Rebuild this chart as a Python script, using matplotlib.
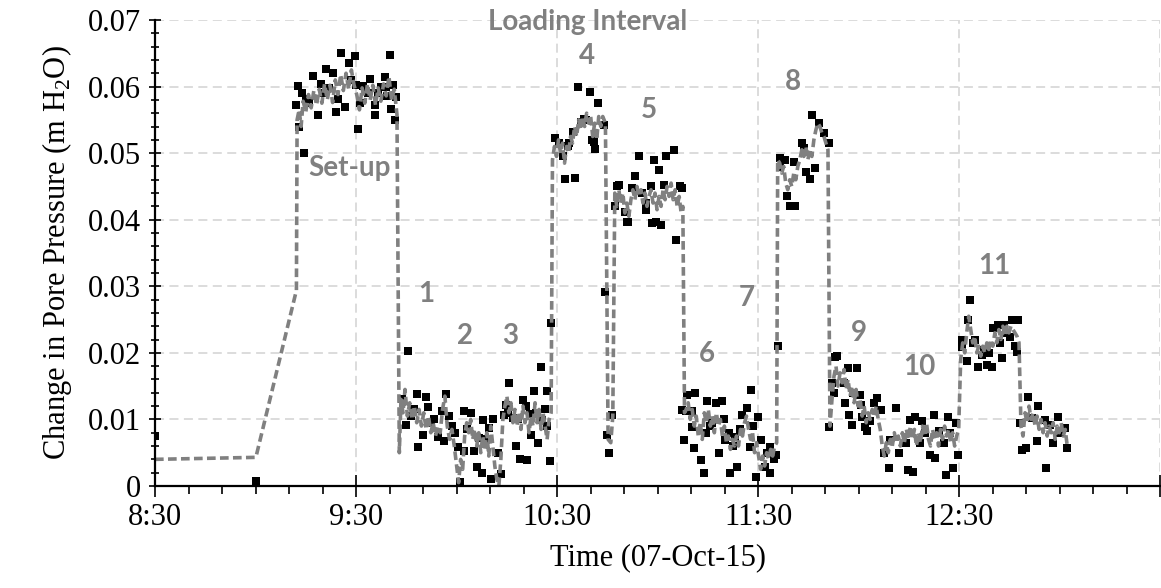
import matplotlib
matplotlib.use('Agg')
import matplotlib.pyplot as plt
from matplotlib.ticker import MultipleLocator, FuncFormatter

# time = minutes after 8:30, value = change in pore pressure (m H2O)
# black squares: individual readings
pre_pts = [(0.0, 0.0075), (30.1, 0.0008)]
setup_pts = [(42.2, 0.0572), (42.7, 0.0601), (43.0, 0.0539), (44.0, 0.0590), (44.5, 0.0500),
             (45.2, 0.0582), (46.0, 0.0575), (47.1, 0.0616), (48.6, 0.0557), (49.4, 0.0604),
             (50.0, 0.0590), (51.1, 0.0627), (52.0, 0.0598), (53.1, 0.0620), (54.1, 0.0562),
             (54.6, 0.0581), (55.4, 0.0651), (56.6, 0.0569), (57.8, 0.0635), (58.5, 0.0610),
             (59.6, 0.0646), (60.1, 0.0602), (60.5, 0.0537), (61.2, 0.0575), (62.0, 0.0601),
             (63.5, 0.0590), (64.3, 0.0611), (65.5, 0.0557), (65.7, 0.0572), (66.5, 0.0590),
             (67.5, 0.0600), (68.5, 0.0615), (69.0, 0.0600), (69.3, 0.0586), (70.0, 0.0647),
             (70.5, 0.0567), (71.0, 0.0603), (71.5, 0.0550), (72.0, 0.0585)]
int1_3_pts = [(73.6, 0.0130), (74.9, 0.0092), (75.6, 0.0203), (76.5, 0.0105), (77.3, 0.0115),
              (78.2, 0.0138), (78.4, 0.0059), (79.9, 0.0077), (80.9, 0.0134), (81.4, 0.0118),
              (82.4, 0.0094), (83.2, 0.0100), (84.4, 0.0074), (85.6, 0.0112), (86.2, 0.0067),
              (86.9, 0.0138), (87.6, 0.0105), (88.5, 0.0090), (89.4, 0.0080), (90.3, 0.0058),
              (91.1, 0.0006), (92.1, 0.0112), (92.3, 0.0053), (93.2, 0.0085), (94.3, 0.0110),
              (95.3, 0.0052), (96.1, 0.0029), (96.8, 0.0072), (97.5, 0.0019), (97.8, 0.0099),
              (98.6, 0.0070), (99.8, 0.0087), (100.3, 0.0010), (101.0, 0.0100), (102.2, 0.0049),
              (103.2, 0.0018), (104.0, 0.0107), (104.7, 0.0122), (105.2, 0.0110), (105.7, 0.0154),
              (106.7, 0.0102), (107.7, 0.0060), (108.3, 0.0100), (109.0, 0.0040), (109.7, 0.0129),
              (110.7, 0.0120), (111.0, 0.0039), (111.8, 0.0108), (112.2, 0.0077), (113.0, 0.0142),
              (113.7, 0.0110), (114.4, 0.0064), (115.2, 0.0178), (115.6, 0.0099), (116.3, 0.0115),
              (116.9, 0.0090), (117.1, 0.0142), (117.9, 0.0038), (118.3, 0.0245)]
int4_pts = [(119.4, 0.0522), (120.6, 0.0515), (121.6, 0.0495), (122.4, 0.0461), (123.1, 0.0510),
            (123.6, 0.0515), (124.6, 0.0531), (125.4, 0.0462), (126.1, 0.0600), (127.1, 0.0547),
            (128.1, 0.0552), (128.6, 0.0550), (129.8, 0.0592), (130.4, 0.0520), (131.0, 0.0517),
            (131.3, 0.0506), (132.3, 0.0576), (134.0, 0.0542), (134.3, 0.0292), (135.0, 0.0077),
            (135.5, 0.0049), (136.5, 0.0107)]
int5_pts = [(137.3, 0.0420), (138.0, 0.0450), (138.5, 0.0452), (140.3, 0.0412), (140.9, 0.0397),
            (141.2, 0.0396), (142.3, 0.0447), (143.2, 0.0465), (144.4, 0.0495), (145.4, 0.0440),
            (146.4, 0.0415), (146.6, 0.0425), (147.9, 0.0450), (148.4, 0.0395), (148.9, 0.0490),
            (149.4, 0.0396), (150.4, 0.0475), (150.9, 0.0392), (151.9, 0.0452), (152.4, 0.0495),
            (154.8, 0.0505), (155.4, 0.0370), (156.8, 0.0450), (157.1, 0.0114), (157.3, 0.0448)]
int6_7_pts = [(157.8, 0.0069), (158.3, 0.0112), (158.8, 0.0137), (160.1, 0.0112), (160.3, 0.0089),
              (160.8, 0.0057), (161.1, 0.0139), (162.8, 0.0039), (163.8, 0.0019), (164.3, 0.0079),
              (164.8, 0.0127), (165.5, 0.0090), (166.3, 0.0094), (167.4, 0.0124), (168.2, 0.0049),
              (169.2, 0.0127), (169.8, 0.0100), (170.2, 0.0069), (171.2, 0.0079), (171.7, 0.0019),
              (172.4, 0.0060), (173.0, 0.0074), (173.7, 0.0029), (174.5, 0.0085), (175.2, 0.0107),
              (176.7, 0.0117), (177.4, 0.0059), (177.7, 0.0144), (178.4, 0.0090), (179.2, 0.0014),
              (180.0, 0.0104), (180.7, 0.0069), (181.9, 0.0029), (182.6, 0.0050), (183.4, 0.0019),
              (183.6, 0.0059), (184.6, 0.0040), (185.4, 0.0047), (186.0, 0.0210)]
int8_pts = [(186.4, 0.0479), (186.6, 0.0492), (188.1, 0.0490), (188.6, 0.0435), (189.6, 0.0420),
            (190.6, 0.0487), (191.1, 0.0420), (193.1, 0.0515), (193.6, 0.0507), (194.1, 0.0472),
            (195.3, 0.0461), (195.9, 0.0557), (196.9, 0.0477), (198.1, 0.0545), (199.5, 0.0530),
            (201.0, 0.0515)]
int9_10_pts = [(201.2, 0.0089), (202.1, 0.0154), (202.5, 0.0139), (202.9, 0.0194), (203.5, 0.0195),
               (205.5, 0.0154), (206.0, 0.0124), (206.8, 0.0177), (207.0, 0.0107), (207.9, 0.0092),
               (208.4, 0.0139), (209.4, 0.0177), (210.4, 0.0137), (210.7, 0.0122), (210.9, 0.0104),
               (211.9, 0.0089), (212.4, 0.0082), (213.4, 0.0097), (214.4, 0.0124), (215.4, 0.0132),
               (216.7, 0.0114), (217.4, 0.0049), (219.1, 0.0027), (219.4, 0.0069), (221.0, 0.0117),
               (221.9, 0.0049), (224.0, 0.0064), (224.6, 0.0024), (225.3, 0.0099), (226.3, 0.0021),
               (226.8, 0.0104), (228.3, 0.0064), (228.8, 0.0097), (229.8, 0.0079), (231.3, 0.0047),
               (232.3, 0.0107), (232.8, 0.0042), (234.0, 0.0082), (235.3, 0.0064), (235.9, 0.0017),
               (236.5, 0.0104), (237.2, 0.0079), (238.2, 0.0027), (238.9, 0.0094), (239.7, 0.0047)]
int11_pts = [(240.7, 0.0209), (240.9, 0.0219), (242.2, 0.0187), (242.7, 0.0249), (243.2, 0.0279),
             (244.0, 0.0215), (244.7, 0.0219), (245.5, 0.0179), (246.7, 0.0197), (247.3, 0.0205),
             (248.2, 0.0182), (249.0, 0.0200), (249.7, 0.0179), (250.1, 0.0237), (251.6, 0.0242),
             (252.0, 0.0215), (252.6, 0.0192), (253.4, 0.0242), (254.3, 0.0230), (255.1, 0.0224),
             (255.6, 0.0249), (256.1, 0.0250), (256.6, 0.0210), (257.1, 0.0202), (257.6, 0.0249)]
end_pts = [(258.1, 0.0094), (258.8, 0.0054), (260.0, 0.0057), (260.4, 0.0134), (261.6, 0.0102),
           (263.1, 0.0067), (263.6, 0.0120), (265.5, 0.0099), (266.0, 0.0027), (267.0, 0.0092),
           (268.0, 0.0064), (269.5, 0.0104), (270.0, 0.0079), (271.6, 0.0087), (272.1, 0.0057)]

# grey dashed line: running mean of readings
pre_line = [(0.0, 0.0040), (30.1, 0.0043), (42.2, 0.0294)]
setup_line = [(42.4, 0.0550), (43.0, 0.0565), (43.6, 0.0540), (44.2, 0.0578), (45.0, 0.0562),
              (45.8, 0.0588), (46.6, 0.0568), (47.4, 0.0594), (48.2, 0.0572), (49.0, 0.0596),
              (49.8, 0.0575), (50.6, 0.0604), (51.4, 0.0580), (52.2, 0.0602), (53.0, 0.0576),
              (53.8, 0.0610), (54.6, 0.0588), (55.4, 0.0618), (56.2, 0.0594), (57.0, 0.0620),
              (57.8, 0.0596), (58.6, 0.0625), (59.4, 0.0602), (60.2, 0.0588), (61.0, 0.0565),
              (61.8, 0.0598), (62.6, 0.0575), (63.4, 0.0604), (64.2, 0.0580), (65.0, 0.0602),
              (65.8, 0.0572), (66.6, 0.0598), (67.4, 0.0578), (68.2, 0.0604), (69.0, 0.0586),
              (69.8, 0.0615), (70.6, 0.0580), (71.4, 0.0596), (72.2, 0.0558), (72.9, 0.0050)]
int1_3_line = [(73.4, 0.0130), (74.0, 0.0110), (74.6, 0.0145), (75.3, 0.0105), (76.0, 0.0125),
               (76.7, 0.0100), (77.4, 0.0120), (78.1, 0.0095), (78.8, 0.0115), (79.5, 0.0090),
               (80.2, 0.0110), (80.9, 0.0085), (81.6, 0.0105), (82.3, 0.0080), (83.0, 0.0095),
               (83.7, 0.0075), (84.4, 0.0090), (85.1, 0.0080), (85.8, 0.0115), (86.5, 0.0135),
               (87.2, 0.0090), (87.9, 0.0070), (88.6, 0.0085), (89.3, 0.0060), (90.0, 0.0030),
               (90.6, 0.0005), (91.2, 0.0040), (91.8, 0.0025), (92.4, 0.0075), (93.0, 0.0095),
               (93.6, 0.0080), (94.2, 0.0100), (94.8, 0.0070), (95.4, 0.0085), (96.0, 0.0060),
               (96.6, 0.0080), (97.2, 0.0050), (97.8, 0.0075), (98.4, 0.0055), (99.0, 0.0080),
               (99.6, 0.0045), (100.2, 0.0090), (100.8, 0.0060), (101.4, 0.0030), (102.0, 0.0010),
               (102.6, 0.0000), (103.2, 0.0040), (103.8, 0.0100), (104.4, 0.0120), (105.0, 0.0135),
               (105.6, 0.0110), (106.2, 0.0125), (106.8, 0.0095), (107.4, 0.0115), (108.0, 0.0090),
               (108.6, 0.0110), (109.2, 0.0085), (109.8, 0.0120), (110.4, 0.0095), (111.0, 0.0110),
               (111.6, 0.0080), (112.2, 0.0105), (112.8, 0.0090), (113.4, 0.0125), (114.0, 0.0095),
               (114.6, 0.0115), (115.2, 0.0085), (115.8, 0.0110), (116.4, 0.0090), (117.0, 0.0070),
               (117.6, 0.0100), (118.2, 0.0110)]
int4_line = [(118.6, 0.0490), (119.2, 0.0510), (119.8, 0.0495), (120.4, 0.0520), (121.0, 0.0500),
             (121.6, 0.0515), (122.2, 0.0485), (122.8, 0.0510), (123.4, 0.0500), (124.0, 0.0525),
             (124.6, 0.0515), (125.2, 0.0540), (125.8, 0.0525), (126.4, 0.0550), (127.0, 0.0535),
             (127.6, 0.0555), (128.2, 0.0540), (128.8, 0.0560), (129.4, 0.0545), (130.0, 0.0555),
             (130.6, 0.0525), (131.2, 0.0545), (131.8, 0.0520), (132.4, 0.0555), (133.0, 0.0540),
             (133.6, 0.0555), (134.4, 0.0545), (135.2, 0.0070), (136.0, 0.0065), (136.6, 0.0105)]
int5_line = [(137.2, 0.0440), (137.8, 0.0420), (138.4, 0.0445), (139.0, 0.0425), (139.6, 0.0440),
             (140.2, 0.0410), (140.8, 0.0425), (141.4, 0.0405), (142.0, 0.0430), (142.6, 0.0445),
             (143.2, 0.0430), (143.8, 0.0450), (144.4, 0.0435), (145.0, 0.0445), (145.6, 0.0425),
             (146.2, 0.0440), (146.8, 0.0420), (147.4, 0.0435), (148.0, 0.0445), (148.6, 0.0425),
             (149.2, 0.0440), (149.8, 0.0415), (150.4, 0.0435), (151.0, 0.0420), (151.6, 0.0445),
             (152.2, 0.0430), (152.8, 0.0450), (153.4, 0.0435), (154.0, 0.0455), (154.6, 0.0430),
             (155.2, 0.0445), (155.8, 0.0420), (156.4, 0.0435), (157.0, 0.0410), (157.5, 0.0420)]
int6_7_line = [(158.0, 0.0110), (158.5, 0.0115), (159.1, 0.0125), (159.7, 0.0100), (160.3, 0.0115),
               (160.9, 0.0090), (161.5, 0.0105), (162.1, 0.0075), (162.7, 0.0095), (163.3, 0.0070),
               (163.9, 0.0110), (164.5, 0.0095), (165.1, 0.0115), (165.7, 0.0090), (166.3, 0.0105),
               (166.9, 0.0080), (167.5, 0.0110), (168.1, 0.0090), (168.7, 0.0100), (169.3, 0.0075),
               (169.9, 0.0090), (170.5, 0.0065), (171.1, 0.0075), (171.7, 0.0055), (172.3, 0.0070),
               (172.9, 0.0060), (173.5, 0.0075), (174.1, 0.0060), (174.7, 0.0085), (175.3, 0.0075),
               (175.9, 0.0095), (176.5, 0.0105), (177.1, 0.0085), (177.7, 0.0070), (178.3, 0.0080),
               (178.9, 0.0050), (179.5, 0.0065), (180.1, 0.0045), (180.7, 0.0025), (181.3, 0.0045),
               (181.9, 0.0030), (182.5, 0.0050), (183.1, 0.0040), (183.7, 0.0055), (184.3, 0.0045),
               (184.9, 0.0060), (185.5, 0.0065)]
int8_line = [(185.8, 0.0490), (186.4, 0.0485), (187.0, 0.0470), (187.6, 0.0480), (188.2, 0.0455),
             (188.8, 0.0445), (189.4, 0.0460), (190.0, 0.0450), (190.6, 0.0470), (191.2, 0.0460),
             (191.8, 0.0480), (192.4, 0.0490), (193.0, 0.0505), (193.6, 0.0495), (194.2, 0.0510),
             (194.8, 0.0490), (195.4, 0.0505), (196.0, 0.0495), (196.6, 0.0520), (197.2, 0.0535),
             (197.8, 0.0545), (198.4, 0.0540), (199.0, 0.0530), (199.6, 0.0525), (200.2, 0.0515),
             (200.8, 0.0505)]
int9_10_line = [(201.4, 0.0090), (202.0, 0.0130), (202.6, 0.0165), (203.2, 0.0180), (203.8, 0.0150),
                (204.4, 0.0170), (205.0, 0.0155), (205.6, 0.0175), (206.2, 0.0145), (206.8, 0.0160),
                (207.4, 0.0135), (208.0, 0.0150), (208.6, 0.0125), (209.2, 0.0145), (209.8, 0.0120),
                (210.4, 0.0130), (211.0, 0.0105), (211.6, 0.0120), (212.2, 0.0095), (212.8, 0.0110),
                (213.4, 0.0100), (214.0, 0.0115), (214.6, 0.0105), (215.2, 0.0120), (215.8, 0.0100),
                (216.4, 0.0085), (217.0, 0.0060), (217.6, 0.0045), (218.2, 0.0065), (218.8, 0.0050),
                (219.4, 0.0070), (220.0, 0.0060), (220.6, 0.0080), (221.2, 0.0065), (221.8, 0.0075),
                (222.4, 0.0060), (223.0, 0.0080), (223.6, 0.0065), (224.2, 0.0085), (224.8, 0.0070),
                (225.4, 0.0090), (226.0, 0.0070), (226.6, 0.0085), (227.2, 0.0060), (227.8, 0.0080),
                (228.4, 0.0065), (229.0, 0.0090), (229.6, 0.0075), (230.2, 0.0095), (230.8, 0.0070),
                (231.4, 0.0060), (232.0, 0.0085), (232.6, 0.0070), (233.2, 0.0080), (233.8, 0.0060),
                (234.4, 0.0085), (235.0, 0.0070), (235.6, 0.0090), (236.2, 0.0075), (236.8, 0.0085),
                (237.4, 0.0065), (238.0, 0.0080), (238.6, 0.0060), (239.2, 0.0075), (239.8, 0.0085)]
int11_line = [(240.4, 0.0190), (241.0, 0.0215), (241.6, 0.0200), (242.2, 0.0230), (242.8, 0.0255),
              (243.4, 0.0235), (244.0, 0.0215), (244.6, 0.0225), (245.2, 0.0200), (245.8, 0.0210),
              (246.4, 0.0195), (247.0, 0.0210), (247.6, 0.0200), (248.2, 0.0215), (248.8, 0.0205),
              (249.4, 0.0220), (250.0, 0.0210), (250.6, 0.0230), (251.2, 0.0215), (251.8, 0.0235),
              (252.4, 0.0220), (253.0, 0.0240), (253.6, 0.0225), (254.2, 0.0240), (254.8, 0.0230),
              (255.4, 0.0240), (256.0, 0.0235), (256.6, 0.0230), (257.2, 0.0225), (257.8, 0.0215)]
end_line = [(258.4, 0.0090), (259.0, 0.0075), (259.6, 0.0110), (260.2, 0.0095), (260.8, 0.0120),
            (261.4, 0.0100), (262.0, 0.0110), (262.6, 0.0090), (263.2, 0.0105), (263.8, 0.0085),
            (264.4, 0.0100), (265.0, 0.0080), (265.6, 0.0095), (266.2, 0.0075), (266.8, 0.0090),
            (267.4, 0.0080), (268.0, 0.0095), (268.6, 0.0070), (269.2, 0.0090), (269.8, 0.0080),
            (270.4, 0.0095), (271.0, 0.0075), (271.6, 0.0085), (272.2, 0.0060)]

labels = ['Set-up', '1', '2', '3', '4', '5', '6', '7', '8', '9', '10', '11']
label_t = [58.1, 81.0, 92.6, 106.0, 128.9, 147.4, 164.7, 176.6, 190.3, 209.9, 228.1, 250.4]
label_v = [0.0478, 0.0289, 0.0226, 0.0226, 0.0646, 0.0565, 0.0199, 0.0282, 0.0607, 0.0230, 0.0178, 0.0331]

points = (pre_pts + setup_pts + int1_3_pts + int4_pts + int5_pts + int6_7_pts
          + int8_pts + int9_10_pts + int11_pts + end_pts)
line = (pre_line + setup_line + int1_3_line + int4_line + int5_line + int6_7_line
        + int8_line + int9_10_line + int11_line + end_line)

plt.rcParams['font.family'] = ['Liberation Serif', 'DejaVu Serif']
plt.rcParams['mathtext.fontset'] = 'custom'
plt.rcParams['mathtext.rm'] = 'Liberation Serif'

grey = '#808080'
grid_c = '#d9d9d9'

fig = plt.figure(figsize=(11.61, 5.88), dpi=100)
ax = fig.add_axes([0.1335, 0.1735, 0.866, 0.7925])

ax.plot([p[0] for p in points], [p[1] for p in points], 's', color='black', ms=5.6, mew=0, zorder=3)
ax.plot([p[0] for p in line], [p[1] for p in line], color=grey, lw=2.6,
        linestyle=(0, (2.4, 1.2)), zorder=4)

ax.set_xlim(0, 300)
ax.set_ylim(0, 0.07)
ax.xaxis.set_major_locator(MultipleLocator(60))
ax.xaxis.set_minor_locator(MultipleLocator(10))
ax.yaxis.set_major_locator(MultipleLocator(0.01))
ax.yaxis.set_minor_locator(MultipleLocator(0.002))


def clock(t, pos):
    if t > 250:
        return ''
    m = int(round(t)) + 30
    return f'{8 + m // 60}:{m % 60:02d}'


ax.xaxis.set_major_formatter(FuncFormatter(clock))
ax.yaxis.set_major_formatter(FuncFormatter(lambda v, p: '0' if abs(v) < 1e-9 else f'{v:.2f}'))

ax.grid(True, which='major', color=grid_c, linestyle=(0, (5, 3)), lw=1.3, zorder=0)
for s in ['top', 'right']:
    ax.spines[s].set_visible(False)
for s in ['left', 'bottom']:
    ax.spines[s].set_linewidth(1.6)
    ax.spines[s].set_zorder(5)

ax.tick_params(axis='x', which='major', direction='inout', length=16, width=1.2, labelsize=22, pad=4)
ax.tick_params(axis='x', which='minor', direction='out', length=6, width=1.2)
ax.tick_params(axis='y', which='major', direction='inout', length=8, width=1.2, labelsize=22, pad=6)
ax.tick_params(axis='y', which='minor', direction='inout', length=6, width=1.2)

ax.set_xlabel('Time (07-Oct-15)', fontsize=22, labelpad=8)
ax.set_ylabel('Change in Pore Pressure (m H$_\\mathregular{2}$O)', fontsize=22, labelpad=10)

ann_font = dict(family=['Lato', 'DejaVu Sans'], weight='bold', color=grey, fontsize=20,
                ha='center', va='center', zorder=6)
for txt, t, v in zip(labels, label_t, label_v):
    ax.text(t, v, txt, **ann_font)
ax.text(129.2, 0.0697, 'Loading Interval', clip_on=False, **ann_font)

fig.savefig('out.png', dpi=100)
